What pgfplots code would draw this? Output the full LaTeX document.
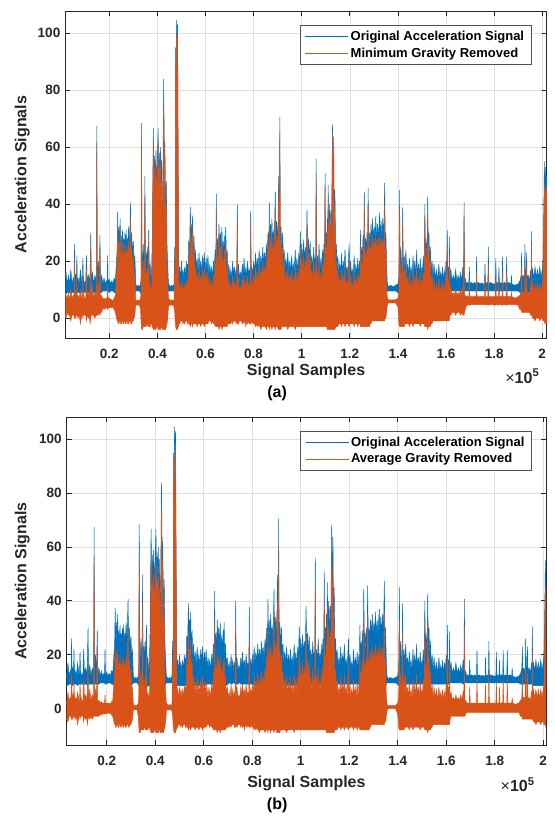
\documentclass[border=0pt]{standalone}
\usepackage{fontspec}
\setmainfont{Liberation Sans}
\usepackage{pgfplots}
\usepackage{pgfplotstable}
\pgfplotsset{compat=1.18}
\usepgfplotslibrary{fillbetween}

\definecolor{mblue}{RGB}{0,114,189}
\definecolor{morange}{RGB}{217,83,25}
\definecolor{axgray}{RGB}{38,38,38}

% envelopes of the signals, x in thousands of samples
% bhi/blo: original signal, ahi/alo: minimum gravity removed, chi/clo: average gravity removed
\pgfplotstableread{
k bhi blo ahi alo chi clo
1.5 14 9 9 1 5 -4
2 16 8.5 8 0 4 -4
2.5 12 9 7 2 3 -3
3 15 9 9 1 5 -3
3.5 12 9 6 1 2 -4
4 17 8.5 10 -1 6 -5
4.5 12 9 7 1 3 -3
5 14 9 8 1 4 -3
5.3 12 9 7 1 3 -3
5.5 26 9 20 0 13 -4
5.7 13 9 7 1 3 -3
6 15 8.5 9 0 5 -4
6.3 13 9 7 1 3 -3
6.5 22 9 15 1 10 -3
6.7 13 9 7 1 3 -3
7 14 9 8 0 4 -4
7.5 12 9 7 1 3 -3
8 17 8.5 10 -2 6 -6
8.5 13 9 7 1 3 -3
8.8 13 9 7 1 3 -3
9 21 9 14 0 9 -4
9.2 14 9 9 1 5 -3
9.7 12 9 7 1 3 -3
10.2 13 9 7 1 3 -3
10.5 22 8.5 17 -1 11 -5
10.8 13 9 8 1 4 -3
11.3 15 9 9 0 5 -4
11.7 12 9 7 1 3 -3
12 16 8.5 10 -2 6 -6
12.3 30 9 25 0 16 -4
12.5 14 9 9 1 5 -3
13 16 9 11 1 7 -4
13.5 12 9 7 1 3 -3
14 15 9 9 0 5 -4
14.6 13 9 8 1 4 -3
14.8 67.5 9 62 1 57 -3
15 14 9 9 1 5 -3
15.4 20 9 12 1 7 -3
15.8 13 9 8 2 3 -3
16.1 29 9 25 1 22 -3
16.3 13 9 8 2 3 -3
16.8 15 9 8 2 3 -3
17.3 12 9.5 6.5 3.5 2 -2
17.8 14 9.5 7 3 2.5 -2.5
18.3 12 9.5 6.5 3.5 2 -2
18.8 13 9.5 7 3.5 2 -2
19.1 12 9.5 6.5 3.5 2 -2
19.3 22 9 12 3 5 -2
19.5 12 9.5 6.5 3.5 2 -2
20 13.5 9 7 3.5 2 -2
20.5 12 9.5 6.5 4 2 -1.5
21 13 9.5 6.5 3.5 2 -2
21.5 12 9.5 6 4 1.5 -1.5
22 14 9 7 3 2.5 -2.5
22.5 13 9 8 2 3 -3
23 20 8.5 15 0 10 -5
23.3 25 8 20 -1 14 -6
23.5 37.4 8 33 -1 23 -6
23.7 27 8 22 -2 15 -7
24 32 8 27 -2 20 -7
24.2 24 8 19 -1 13 -6
24.5 35 8 30 -1 22 -6
24.7 25 8 20 -2 14 -7
25 29 8 24 -2 17 -7
25.2 23 8 18 -1 12 -6
25.5 31 8 27 -1 20 -6
25.7 24 8 19 -2 13 -7
26 28 8 23 -2 16 -7
26.2 22 8 18 -1 12 -6
26.5 30 8 26 -1 19 -6
26.7 24 8 19 -2 13 -7
27 31 8 25 -2 18 -7
27.2 23 8 18 -1 12 -6
27.5 28 8 24 -1 17 -6
27.7 24 8 19 -2 13 -7
28 32 8 27 -2 20 -7
28.4 25 8 20 -1 14 -6
28.8 40.6 8 35 -1 30 -6
29 26 8 21 -2 15 -7
29.3 30 8 25 -2 18 -7
29.6 23 8 18 -1 12 -6
30 27 8.5 22 -1 15 -6
30.3 19 8.5 13 0 8 -5
30.6 22 9 15 1 8 -4
31 12 9.5 6.5 4.5 1.5 -0.5
31.5 11 9.5 6 4.5 1 -0.5
32 11.5 9.5 6.3 4.5 1.2 -0.5
32.5 11 9.5 6 4.5 1 -0.5
33 12 9 7 3 2 -3
33.2 14 8.5 9 -1 4 -6
33.4 68.4 8 63.7 -4 57.3 -9
33.6 22 8 16 -4 10 -9
33.8 18 8 12 -4 6 -9
34.1 26 8 20 -3 14 -8
34.4 19 8 13 -3 7 -8
34.6 24 8 18 -3 12 -8
34.8 49.7 8 42.7 -3 39.3 -8
35 20 8 14 -3 8 -8
35.3 23 8 16 -3 10 -8
35.6 18 8 12 -2 6 -7
35.8 25 8 18 -2 12 -7
36.1 19 8 13 -3 7 -8
36.4 31 8 27 -3 20 -8
36.6 17 8 11 -3 5 -8
37 19 8.5 12 -3 6 -8
37.3 14 8.5 9 -2 4 -7
37.6 16 8.5 10 -2 5 -7
37.9 30 8 24 -3 18 -8
38.3 66.7 8 61.4 -4 56.7 -9
38.6 45 8 40 -4 35 -9
38.8 57 8 53 -4 47 -9
39.1 48 8 42 -4 37 -9
39.4 59 8 54 -4 50 -9
39.7 45 8 40 -3 35 -8
40 56 8 50 -3 46 -8
40.3 66.7 8 61.4 -4 56 -9
40.5 50 8 44 -4 40 -9
40.8 58 8 54 -4 49 -9
41.1 47 8 42 -4 37 -9
41.3 60 8 55 -4 51 -9
41.5 44 8 38 -3 34 -8
41.7 55.6 8 48 -3 44 -8
42 35 8 30 -4 25 -9
42.2 40 8 34 -4 30 -9
42.6 83.9 8 75.7 -4 73.7 -9
42.9 55 8 50 -4 46 -9
43.1 62 8 58 -4 55 -9
43.4 35 8 30 -4 25 -9
43.7 48 8 40 -3 35 -8
44 25 8.5 18 -2 12 -7
44.3 18 9 12 0 6 -5
44.6 12 9.5 7 4 2 -1
45 11.5 9.5 6.5 4.5 1.5 -0.5
45.5 11 9.5 6 4.5 1 -0.5
46 11.5 9.5 6.5 4.5 1.5 -0.5
46.5 11 9.5 6 4.5 1 -0.5
46.9 12 9.5 6.5 4 1.5 -1
47.2 25 9 20 2 17 -3
47.4 15 8.5 10 -1 5 -6
47.6 95 8 90 -3 85 -8
47.8 90 8 86 -4 80 -9
48 104.7 8 100 -4 94.5 -9
48.2 98 8 95 -4 90 -9
48.4 103 8 99 -4 94 -9
48.6 60 8 55 -3 50 -8
48.8 30 8 25 -3 20 -8
49 16 8.5 10 -2 5 -7
49.3 18 8.5 12 -2 7 -7
49.6 13 8.5 8 -1 3 -6
50 20 8.5 13 -1 8 -6
50.3 14 8.5 9 -1 4 -6
50.6 17 8.5 12 -2 7 -7
51 14 8.5 9 -1 4 -6
51.3 18 8.5 12 -2 7 -7
51.7 14 8.5 9 -1 4 -6
52 20 8.5 14 -1 9 -6
52.3 15 8.5 10 -1 5 -6
52.5 19 8.5 13 -2 8 -7
52.8 16 8.5 11 -1 6 -6
53 27 8 22 -2 17 -7
53.3 22 8 17 -2 12 -7
53.7 39 8 33 -3 28 -8
54 26 8 21 -2 15 -7
54.2 33 8 28 -2 22 -7
54.4 25 8 20 -2 14 -7
54.6 36 8 31 -3 25 -8
54.9 22 8 17 -2 11 -7
55.2 29 8 24 -2 18 -7
55.5 19 8 14 -2 8 -7
55.8 24 8.5 18 -2 12 -7
56.1 17 8.5 12 -2 6 -7
56.5 21 8.5 16 -3 10 -8
56.9 16 8.5 11 -2 5 -7
57.3 23 8.5 18 -2 12 -7
57.6 17 8.5 12 -2 6 -7
58 20 8.5 15 -3 9 -8
58.4 16 8.5 11 -2 5 -7
58.8 22 8.5 17 -2 11 -7
59.1 17 8.5 12 -2 6 -7
59.5 23 8.5 18 -3 12 -8
59.9 16 8.5 11 -2 5 -7
60.3 21 8.5 16 -2 10 -7
60.6 16 8.5 11 -2 5 -7
61 22 9 16 -2 10 -7
61.4 15 9 10 -1 4 -6
61.8 19 9 14 -1 8 -6
62.1 15 9 10 -1 4 -6
62.5 18 9 13 -2 7 -7
62.9 14 9 9 -1 4 -6
63.3 20 9 15 -2 9 -7
63.6 16 9 11 -2 5 -7
64 24 8.5 19 -3 13 -8
64.3 20 8.5 15 -2 9 -7
64.5 43.6 8 38 -3 33.7 -8
64.7 22 8 17 -3 11 -8
65 28 8 22 -3 16 -8
65.3 22 8 17 -3 11 -8
65.6 33 8 28 -4 20 -9
65.9 24 8 19 -3 13 -8
66.2 30 8 25 -3 18 -8
66.5 23 8 18 -3 12 -8
66.8 32 8 27 -4 20 -9
67.1 22 8 17 -3 11 -8
67.4 27 8 21 -3 15 -8
67.7 21 8 16 -3 10 -8
68 29 8 24 -3 17 -8
68.2 22 8 17 -3 11 -8
68.4 32 8 26 -3 19 -8
68.7 20 8.5 15 -3 9 -8
69 24 8.5 18 -3 12 -8
69.3 16 8.5 11 -2 5 -7
69.7 19 9 14 -2 8 -7
70.1 14 9 9 -2 4 -7
70.5 17 9.5 12 -2 6 -7
70.9 14 9.5 9 -1 4 -6
71.3 20 9 15 -2 9 -7
71.6 15 9 10 -1 4 -6
72 18 9.5 13 -1 7 -6
72.4 14 9.5 9 -1 4 -6
72.7 17 9.5 12 -2 6 -7
73 15 9 10 -1 4 -6
73.2 40 9 34.5 -2 30 -7
73.4 15 9 10 -1 4 -6
73.7 19 9 14 -2 8 -7
74.1 14 9 9 -1 4 -6
74.5 16 9.5 11 -1 5 -6
74.9 14 9.5 9 -1 4 -6
75.3 19 9 14 -2 8 -7
75.7 15 9 10 -1 5 -6
76 21 9 15 -2 9 -7
76.4 15 9 10 -1 5 -6
76.8 18 9 13 -3 7 -8
77.1 14 9 9 -1 4 -6
77.5 20 9 15 -2 9 -7
77.9 15 9 10 -1 5 -6
78.2 17 9 12 -2 6 -7
78.6 15 9 10 -1 5 -6
78.8 37.7 9 32.7 -2 26 -7
79 15 9 10 -1 5 -6
79.3 18 9 13 -2 7 -7
79.7 15 9 10 -1 5 -6
80 20 9 15 -2 9 -7
80.4 16 9 11 -2 6 -7
80.8 23 8.5 18 -3 12 -8
81.1 17 8.5 12 -2 7 -7
81.5 21 8.5 16 -3 10 -8
81.9 17 8.5 12 -2 7 -7
82.3 24 8.5 19 -3 13 -8
82.6 18 8.5 13 -3 7 -8
83 22 8.5 17 -4 11 -9
83.4 18 8.5 13 -3 7 -8
83.8 25 8.5 20 -3 14 -8
84.1 19 8.5 14 -3 8 -8
84.5 23 8.5 18 -3 12 -8
84.9 19 8.5 14 -3 8 -8
85.3 26 8 21 -4 15 -9
85.6 21 8 16 -3 10 -8
86 30 8 25 -3 19 -8
86.3 23 8 18 -3 12 -8
86.5 40.6 8 32 -4 30 -9
86.7 25 8 20 -3 14 -8
87 33 8 28 -3 22 -8
87.3 26 8 21 -3 15 -8
87.6 35 8 30 -4 24 -9
87.9 25 8 20 -3 14 -8
88.2 31 8 26 -3 21 -8
88.6 26 8 21 -3 15 -8
89 44.4 8 38 -4 35 -9
89.2 27 8 22 -3 16 -8
89.5 34 8 29 -3 24 -8
89.9 28 8 23 -3 17 -8
90.2 35 8 30 -4 25 -9
90.4 49.7 8 44 -4 40 -9
90.7 35 8 30 -4 25 -9
90.9 70.5 8 65.8 -4 60.4 -9
91.1 28 8 23 -4 18 -9
91.4 32 8 27 -4 22 -9
91.7 24 8 19 -3 13 -8
92.1 30 8 25 -3 20 -8
92.4 20 8.5 15 -3 9 -8
92.7 24 8.5 19 -3 14 -8
93 17 8.5 12 -3 6 -8
93.4 21 8.5 16 -3 11 -8
93.8 17 8.5 12 -3 6 -8
94.2 23 8.5 17 -4 12 -9
94.6 16 8.5 11 -3 5 -8
95 20 8.5 15 -3 10 -8
95.4 16 8.5 11 -3 5 -8
95.8 22 8.5 17 -3 12 -8
96.1 16 8.5 11 -3 5 -8
96.5 19 8.5 14 -3 9 -8
96.9 16 8.5 11 -3 5 -8
97.3 24 8.5 18 -4 13 -9
97.6 17 8.5 12 -3 6 -8
98 21 8.5 16 -3 11 -8
98.4 16 8.5 11 -3 5 -8
98.8 23 8.5 17 -3 12 -8
99.1 18 8.5 13 -3 7 -8
99.4 30.4 8.5 25 -3 20 -8
99.7 20 8.5 15 -3 9 -8
100 26 8.5 21 -3 16 -8
100.4 20 8.5 15 -3 9 -8
100.8 27.5 8.5 22 -3 17 -8
101.1 20 8.5 15 -3 9 -8
101.5 25 8.5 20 -3 15 -8
101.9 21 8.5 16 -3 10 -8
102.2 38 8.5 33 -3 28 -8
102.5 22 8.5 17 -3 11 -8
102.8 28 8.5 23 -3 18 -8
103.1 20 8.5 15 -3 9 -8
103.5 27 8.5 22 -3 17 -8
103.9 18 8.5 13 -3 7 -8
104.2 22 8.5 17 -3 12 -8
104.6 17 8.5 12 -3 6 -8
105 25 8.5 20 -3 15 -8
105.3 17 8.5 12 -3 6 -8
105.5 21 8.5 16 -3 11 -8
105.8 18 8.5 13 -3 7 -8
106 56 8.5 51 -3 45.5 -8
106.2 18 8.5 13 -3 7 -8
106.5 22 8.5 17 -3 12 -8
106.9 17 8.5 12 -3 6 -8
107.2 26 8.5 20 -3 15 -8
107.6 17 8.5 12 -3 6 -8
108 21 8.5 16 -3 11 -8
108.3 17 8.5 12 -3 6 -8
108.7 24 8.5 19 -3 14 -8
109 18 8.5 13 -3 7 -8
109.2 26 8.5 21 -3 16 -8
109.5 20 8.5 15 -3 9 -8
109.7 50.9 8 46.8 -3 39 -8
109.9 22 8 17 -3 11 -8
110.2 30 8 25 -3 20 -8
110.4 24 8 19 -3 13 -8
110.6 35 8 30 -4 24 -9
110.8 26 8 21 -4 15 -9
111 46.8 8 42 -4 38 -9
111.2 28 8 23 -4 17 -9
111.5 40 8 35 -4 30 -9
111.8 27 8 22 -4 16 -9
112.1 38 8 33 -4 28 -9
112.4 30 8 25 -4 19 -9
112.8 68.2 8 65 -4 58 -9
113 45 8 40 -4 34 -9
113.3 63.7 8 59 -4 52 -9
113.5 35 8 30 -4 24 -9
113.8 45 8 38 -4 30 -9
114.1 22 8.5 17 -3 11 -8
114.4 26 8.5 20 -3 14 -8
114.7 17 8.5 12 -3 6 -8
115 22 8.5 17 -3 11 -8
115.4 16 9 11 -2 5 -7
115.8 19 9 14 -2 8 -7
116.2 16 9 11 -2 5 -7
116.5 23 8.5 17 -3 12 -8
116.9 16 9 11 -2 5 -7
117.3 20 9 15 -2 9 -7
117.6 16 9 11 -2 5 -7
118 24 8.5 18 -3 13 -8
118.4 16 9 11 -2 5 -7
118.8 18 9 13 -2 8 -7
119.2 15 9 10 -2 4 -7
119.7 26 8.5 21 -3 16 -8
120 16 9 11 -2 5 -7
120.3 20 9 15 -2 9 -7
120.7 15 9 10 -2 4 -7
121 17 9 12 -2 7 -7
121.4 15 9 10 -2 4 -7
121.8 22 9 17 -3 11 -8
122.1 15 9 10 -2 4 -7
122.5 19 9 14 -2 8 -7
122.9 15 9 10 -2 4 -7
123.3 21 9 16 -3 10 -8
123.6 15 9 10 -2 4 -7
124 20 9 15 -2 9 -7
124.2 17 9 12 -2 6 -7
124.4 31 8.5 26 -3 20 -8
124.7 19 8.5 14 -3 8 -8
125 25 8.5 20 -3 14 -8
125.3 20 8.5 15 -3 9 -8
125.5 29 8.5 24 -3 18 -8
125.8 21 8.5 16 -3 10 -8
126 44.4 8 39 -3 32 -8
126.3 22 8.5 17 -3 11 -8
126.6 28 8.5 23 -3 17 -8
126.9 21 8.5 16 -3 10 -8
127.1 30 8.5 25 -3 19 -8
127.4 23 8.5 18 -3 12 -8
127.6 45.6 8 40 -3 35 -8
127.9 24 8.5 19 -3 13 -8
128.2 30 8.5 25 -3 19 -8
128.5 25 8 20 -2 14 -7
128.8 33 8 27 -2 21 -7
129.1 27 8 22 -1 16 -6
129.5 35 8 29 -1 23 -6
129.8 27 8 22 -1 16 -6
130.2 32 8 27 -1 21 -6
130.5 27 8 22 -1 16 -6
130.8 36 8 29 -1 24 -6
131.1 27 8 22 -1 16 -6
131.5 33 8 28 -1 22 -6
131.9 28 8 23 -1 17 -6
132.4 37 8 29 -1 24 -6
132.7 28 8 23 -1 17 -6
133 34 8 28 -1 22 -6
133.3 27 8 22 -1 16 -6
133.7 35 8 28 -1 23 -6
134.1 28 8 22 -1 16 -6
134.5 47.4 8 40 -1 36 -6
134.7 28 8.5 22 0 16 -5
135 30 8.5 24 0 18 -5
135.3 18 9 11 2 5 -3
135.6 12 9.5 7 4.5 1.5 -1
136 11 9.5 6.4 5.3 1 0
137 11.5 9.5 6.4 5.3 1 0
138 11 9.5 6.4 5.3 1 0
139 11.5 9.5 6.4 5.3 1 0
140 12 9 7 4 2 -2
140.4 15 8.5 9 -2 4 -7
140.7 45 8.5 39 -3 33 -8
140.9 18 8.5 13 -3 7 -8
141.2 25 8.5 19 -3 13 -8
141.6 17 8.5 12 -3 6 -8
141.8 20 8.5 15 -3 9 -8
142 39 8.5 33 -3 28 -8
142.2 18 8.5 13 -3 7 -8
142.6 22 8.5 17 -3 12 -8
142.9 16 8.5 11 -2 5 -7
143.3 24 8.5 18 -2 13 -7
143.7 15 9 10 -2 4 -7
144 19 9 14 -2 8 -7
144.4 15 9 10 -2 4 -7
144.8 21 9 16 -3 10 -8
145.1 15 9 10 -2 4 -7
145.5 18 9 13 -2 7 -7
145.9 14 9 9 -2 4 -7
146.3 22 9 17 -3 11 -8
146.6 15 9 10 -2 4 -7
147 20 9 15 -2 9 -7
147.4 15 9 10 -2 4 -7
147.8 24 9 18 -2 13 -7
148.1 15 9 10 -2 4 -7
148.5 19 9 14 -2 8 -7
148.9 15 9 10 -2 4 -7
149.3 21 9 16 -3 10 -8
149.7 14 9 9 -2 4 -7
150 18 9 13 -2 7 -7
150.3 15 9 10 -2 4 -7
150.5 22 9 16 -2 11 -7
150.9 18 8.5 13 -2 7 -7
151.2 40 8.5 35.7 -3 30 -8
151.4 20 8.5 15 -3 9 -8
151.7 28 8.5 23 -3 17 -8
152.1 20 8.5 15 -3 9 -8
152.4 42.7 8.5 37 -4 33 -9
152.6 22 8.5 17 -3 11 -8
152.9 30 8.5 25 -3 19 -8
153.2 19 8.5 14 -3 8 -8
153.5 25 8.5 20 -3 14 -8
153.8 16 9 11 -2 5 -7
154.2 20 9 15 -2 9 -7
154.6 14 9 9 -1 4 -6
155 19 9 14 -1 8 -6
155.5 14 9 9 -1 4 -6
156 17 9 12 -1 7 -6
156.5 13 9 8 -1 3 -6
157 19 9 14 -1 8 -6
157.4 14 9 9 -1 4 -6
157.8 16 9 11 -1 6 -6
158.1 13 9 8 -1 3 -6
158.5 18 9 13 -1 7 -6
158.9 13 9 8 -1 3 -6
159.3 17 9 12 -1 6 -6
159.6 13 9 8 -1 3 -6
160 20 9 15 -1 9 -6
160.3 15 9 10 -1 5 -6
160.5 31 9 26 -1 22 -6
160.7 15 9 10 -1 5 -6
161 18 9 13 -1 8 -6
161.2 15 9 10 -1 5 -6
161.4 28.6 9 22 -1 18 -6
161.6 14 9.5 9 1 4 -4
162 17 9.5 11 1 6 -3
162.5 13 9.5 8 2 3 -3
163 15 9.5 9 2 4 -3
163.5 13 9.5 8 2 3 -3
164 17 9.5 10 1 5 -3
164.5 13 9.5 8 2 3 -3
165 15 9.5 9 2 4 -3
165.5 13 9.5 8 2 3 -3
166 16 9.5 10 1 5 -3
166.5 13 9.5 8 2 3 -3
167 18 9 11 1 6 -3
167.3 14 9 9 1 4 -3
167.5 40.6 9 35.7 1 30.6 -3
167.7 14 9.5 8 2 3 -3
168 14 9.5 8 3 3 -2
168.5 12 9.5 7.5 4.5 2 -1.5
169 12.5 9.5 7.5 4.5 2 -1.5
169.5 12 9.5 7.5 4.5 2 -1.5
169.7 18 9.5 13 4.5 8 -1.5
169.9 12 9.5 7.5 4.5 2 -1.5
170.5 12.5 9.5 7.5 4.7 2 -1.5
171.2 12 9.5 7.5 4.7 2 -1.5
171.8 12.5 9.5 7.5 4.7 2 -1.5
172.5 12 9.5 7.5 4.7 2 -1.5
172.7 21.6 9.5 16 4.7 11 -1.5
172.9 12 9.5 7.5 4.7 2 -1.5
173.5 12.5 9.5 7.5 4.7 2 -1.5
174.2 12 9.5 7.5 4.7 2 -1.5
174.8 12.3 9.5 7.6 4.7 2 -1.6
175.5 12 9.5 7.5 4.7 2 -1.5
176 12 9.5 7.5 4.7 2 -1.5
176.2 19 9.5 14 4.7 9 -1.5
176.4 12 9.5 7.5 4.7 2 -1.5
177 12.5 9.5 7.5 4.7 2 -1.5
177.4 12 9.5 7.5 4.5 2 -1.5
177.6 25 9.5 19 4.5 14 -1.5
177.8 12 9.5 7.5 4.7 2 -1.5
178.5 12.5 9.5 7.5 4.7 2 -1.5
179.5 12 9.5 7.5 4.7 2 -1.5
180.5 12 9.5 7.5 4.5 2 -1.5
180.7 21 9.5 15 4.5 10 -1.5
180.9 12 9.5 7.5 4.7 2 -1.5
181.5 12.5 9.5 7.5 4.7 2 -1.5
181.8 12 9.5 7.5 4.5 2 -1.5
182 18 9.5 13 4.5 8 -1.5
182.2 12 9.5 7.5 4.7 2 -1.5
182.8 12.5 9.5 7.5 4.7 2 -1.5
183.3 12 9.5 7.5 4.5 2 -1.5
183.5 21.6 9.5 16 4.5 11 -1.5
183.7 12 9.5 7.5 4.7 2 -1.5
184.4 12.5 9.5 7.5 4.7 2 -1.5
185 12 9.5 7.5 4.5 2 -1.5
185.2 21.6 9.5 16 4.5 11 -1.5
185.4 12 9.5 7.5 4.7 2 -1.5
186 12.5 9.5 7.5 4.7 2 -1.5
187 12 9.5 7.5 4.7 2 -1.5
187.2 15 9.5 9 4.7 4 -1.5
187.4 12 9.5 7.5 4.7 2 -1.5
188.5 11.5 9.5 7 4.7 1.5 -1.5
190 12 9.5 7.5 4.5 2 -1.5
190.7 13 9 8 3 3 -3
191.2 15 9 9 3 4 -3
191.4 23 9 18 2 13 -4
191.6 14 9 9 2 4 -4
192 15 9 9 2 4 -4
192.6 14 9 9 2 4 -4
192.8 26 9 20 2 15 -4
193 14 9 9 2 4 -4
193.3 15 9 9 2 4 -4
193.5 23 9 18 2 13 -4
193.7 14 9 9 2 4 -4
194.2 15 9 9 2 4 -4
194.7 13 9 8 2 3 -4
195.2 17 9 11 1 6 -4
195.4 14 9 9 1 4 -4
195.5 30.4 9 26 1 21 -4
195.7 14 9 9 1 4 -4
196 17 8.5 12 0 7 -5
196.5 14 8.5 9 0 4 -5
197 18 8.5 12 -1 7 -6
197.5 14 8.5 9 0 4 -5
198 17 8.5 12 0 7 -5
198.5 14 8.5 9 0 4 -5
199 18 8.5 12 -1 7 -6
199.5 14 8.5 9 0 4 -5
200 17 8.5 12 0 7 -5
200.3 20 8.5 15 -1 10 -6
200.5 30 8.5 25 -1 20 -6
200.7 40 8.5 35 -1 30 -6
200.9 55 8.5 47.4 -1 45.5 -6
201.1 42 8 37 -2 33 -7
201.3 53 8 46 -2 44 -7
201.5 44 8 38 -2 35 -7
201.8 50 8 45 -2 40 -7
202.5 45 8 40 -2 35 -7
}\sig

\pgfplotsset{
  sigaxis/.style={
    scale only axis, anchor=north west,
    xtick={20,40,...,200},
    xticklabels={0.2,0.4,0.6,0.8,1,1.2,1.4,1.6,1.8,2},
    ytick={0,20,...,100},
    tick pos=both, xticklabel pos=lower, yticklabel pos=left,
    tick align=inside, major tick length=5pt,
    grid=major, major grid style={color=black!13, line width=0.5pt},
    axis line style={axgray, line width=0.8pt},
    tick style={axgray, line width=0.8pt},
    /pgf/number format/assume math mode=true,
    every tick label/.append style={font=\fontsize{13.5}{15}\selectfont\bfseries, text=axgray},
    xticklabel style={yshift=-7.5pt},
    yticklabel style={xshift=-1.5pt},
    label style={font=\fontsize{16}{18}\selectfont\bfseries, text=axgray},
    ylabel={Acceleration Signals},
    xlabel={Signal Samples},
    legend style={anchor=north east, draw=axgray!80, line width=0.6pt, fill=white,
      font=\fontsize{13}{15.5}\selectfont\bfseries, text=black,
      cells={anchor=west}, inner xsep=5pt, inner ysep=4pt, row sep=1.5pt},
    legend image code/.code={\draw[#1, line width=0.9pt] (0pt,0pt) -- (43pt,0pt);},
  }
}

\begin{document}
\begin{tikzpicture}
% ---------- (a) ----------
\begin{axis}[sigaxis, at={(0pt,0pt)},
    width=481.5pt, height=327pt,
    xmin=1.7, xmax=201.9, ymin=-7, ymax=107.8,
    xlabel style={at={(axis description cs:0.5,0)}, anchor=center, yshift=-33.5pt},
    ylabel style={at={(axis description cs:-0.0893,0.5)}, anchor=center},
    legend style={at={(rel axis cs:0.968,0.957)}},
    extra description/.code={
      \node[anchor=base east, font=\fontsize{16}{18}\selectfont, text=axgray, xshift=-4pt, yshift=-45pt]
        at (axis description cs:1,0) {×\textbf{10}\textsuperscript{\textbf{5}}};
      \node[anchor=center, font=\fontsize{16}{18}\selectfont\bfseries, text=black, yshift=-55pt]
        at (axis description cs:0.44,0) {(a)};
    },
  ]
  \addplot[draw=none, forget plot, name path=bh] table[x=k, y=bhi] {\sig};
  \addplot[draw=none, forget plot, name path=bl] table[x=k, y=blo] {\sig};
  \addplot[fill=mblue, draw=mblue, line width=0.45pt, forget plot] fill between[of=bh and bl];
  \addplot[draw=none, forget plot, name path=ah] table[x=k, y=ahi] {\sig};
  \addplot[draw=none, forget plot, name path=al] table[x=k, y=alo] {\sig};
  \addplot[fill=morange, draw=morange, line width=0.45pt, forget plot] fill between[of=ah and al];
  \addlegendimage{mblue}
  \addlegendentry{Original Acceleration Signal}
  \addlegendimage{morange}
  \addlegendentry{Minimum Gravity Removed}
\end{axis}
% ---------- (b) ----------
\begin{axis}[sigaxis, at={(1.4pt,-406pt)},
    width=479.4pt, height=328pt,
    xmin=3.5, xmax=201.2, ymin=-13.6, ymax=108.3,
    xlabel style={at={(axis description cs:0.5,0)}, anchor=center, yshift=-38.5pt},
    ylabel style={at={(axis description cs:-0.0926,0.5)}, anchor=center},
    legend style={at={(rel axis cs:0.970,0.958)}},
    extra description/.code={
      \node[anchor=base east, font=\fontsize{16}{18}\selectfont, text=axgray, xshift=-8pt, yshift=-46.5pt]
        at (axis description cs:1,0) {×\textbf{10}\textsuperscript{\textbf{5}}};
      \node[anchor=center, font=\fontsize{16}{18}\selectfont\bfseries, text=black, yshift=-60pt]
        at (axis description cs:0.439,0) {(b)};
    },
  ]
  \addplot[draw=none, forget plot, name path=bh] table[x=k, y=bhi] {\sig};
  \addplot[draw=none, forget plot, name path=bl] table[x=k, y=blo] {\sig};
  \addplot[fill=mblue, draw=mblue, line width=0.45pt, forget plot] fill between[of=bh and bl];
  \addplot[draw=none, forget plot, name path=ch] table[x=k, y=chi] {\sig};
  \addplot[draw=none, forget plot, name path=cl] table[x=k, y=clo] {\sig};
  \addplot[fill=morange, draw=morange, line width=0.45pt, forget plot] fill between[of=ch and cl];
  \addlegendimage{mblue}
  \addlegendentry{Original Acceleration Signal}
  \addlegendimage{morange}
  \addlegendentry{Average Gravity Removed}
\end{axis}
\pgfresetboundingbox
\path[use as bounding box] (-65.3pt,11pt) rectangle (488.7pt,-807pt);
\end{tikzpicture}
\end{document}
